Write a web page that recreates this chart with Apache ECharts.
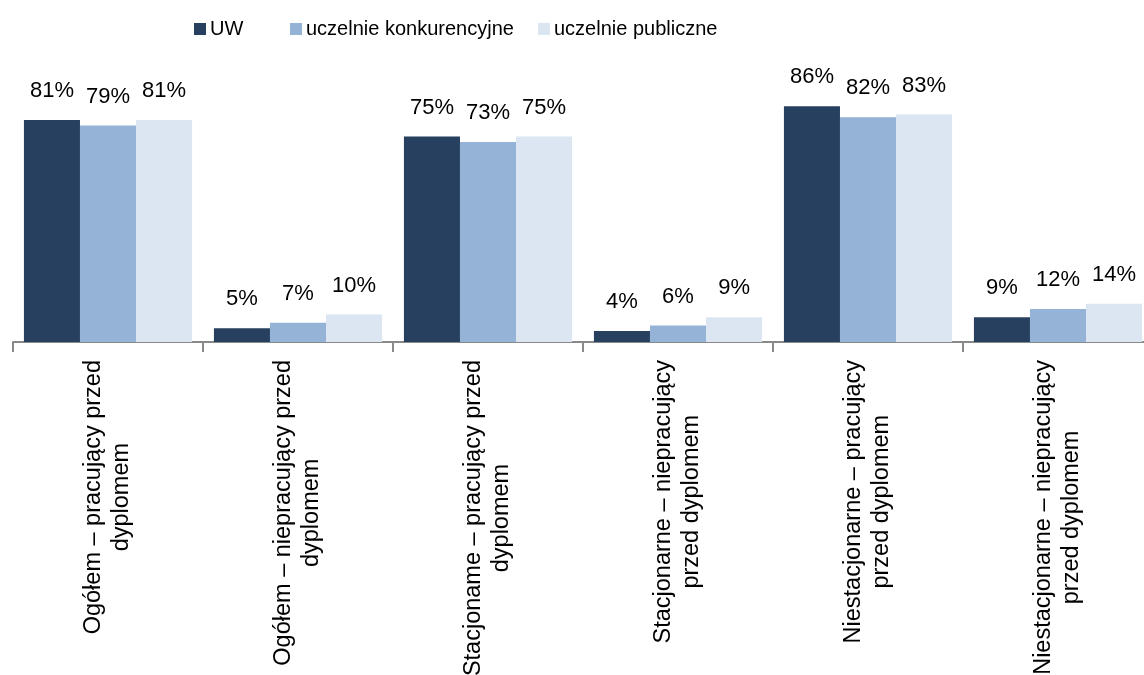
<!DOCTYPE html>
<html>
<head>
<meta charset="utf-8">
<script src="https://cdn.jsdelivr.net/npm/echarts@6/dist/echarts.min.js"></script>
<style>
  html, body { margin: 0; padding: 0; background: #fff; }
  #chart { width: 1144px; height: 675px; }
</style>
</head>
<body>
<div id="chart"></div>
<script>
const categories = [
  "Ogółem – pracujący przed\ndyplomem",
  "Ogółem – niepracujący przed\ndyplomem",
  "Stacjoname – pracujący przed\ndyplomem",
  "Stacjonarne – niepracujący\nprzed dyplomem",
  "Niestacjonarne – pracujący\nprzed dyplomem",
  "Niestacjonarne – niepracujący\nprzed dyplomem",
];
const seriesNames = ["UW", "uczelnie konkurencyjne", "uczelnie publiczne"];
const uwValues = [81, 5, 75, 4, 86, 9];
const konkurencyjneValues = [79, 7, 73, 6, 82, 12];
const publiczneValues = [81, 10, 75, 9, 83, 14];
const colors = ["#27405F", "#95B3D7", "#DCE6F2"];

const regularFont = "'Liberation Sans', Arial, sans-serif";
// one legend per item so each sits where the original puts it
const legendLefts = [189, 285, 533];

const barLabel = {
  show: true,
  position: "top",
  distance: 18,
  color: "#000",
  fontFamily: regularFont,
  fontSize: 22,
  formatter: (p) => p.value + "%",
};

function makeSeries(name, data, color) {
  return {
    name: name,
    type: "bar",
    data: data,
    barGap: 0,
    barCategoryGap: "11.5%",
    itemStyle: { color: color },
    label: barLabel,
  };
}

function makeLegend(name, left) {
  return {
    left: left,
    top: 14,
    itemWidth: 12,
    itemHeight: 12,
    itemGap: 0,
    icon: "rect",
    textStyle: {
      color: "#000",
      fontFamily: regularFont,
      fontSize: 20,
      padding: [0, 0, 0, -1],
    },
    data: [name],
  };
}

const chart = echarts.init(document.getElementById("chart"));
chart.setOption({
  animation: false,
  legend: seriesNames.map((n, i) => makeLegend(n, legendLefts[i])),
  grid: {
    left: 13,
    width: 1140,
    top: 68,
    bottom: 333,
    outerBoundsMode: "none",
  },
  xAxis: {
    type: "category",
    data: categories,
    axisLine: { lineStyle: { color: "#898989", width: 2 } },
    axisTick: { show: true, length: 10, lineStyle: { color: "#898989", width: 2 } },
    axisLabel: {
      interval: 0,
      rotate: 90,
      margin: 18,
      color: "#000",
      fontFamily: regularFont,
      fontSize: 23.5,
      lineHeight: 28,
      formatter: (v) => v.split("\n").map((l) => "{c|" + l + "}").join("\n"),
      rich: {
        c: {
          align: "center",
          color: "#000",
          fontFamily: regularFont,
          fontSize: 23.5,
          lineHeight: 28,
        },
      },
    },
  },
  yAxis: {
    type: "value",
    min: 0,
    max: 100,
    show: false,
  },
  series: [
    makeSeries(seriesNames[0], uwValues, colors[0]),
    makeSeries(seriesNames[1], konkurencyjneValues, colors[1]),
    makeSeries(seriesNames[2], publiczneValues, colors[2]),
  ],
});
</script>
</body>
</html>
